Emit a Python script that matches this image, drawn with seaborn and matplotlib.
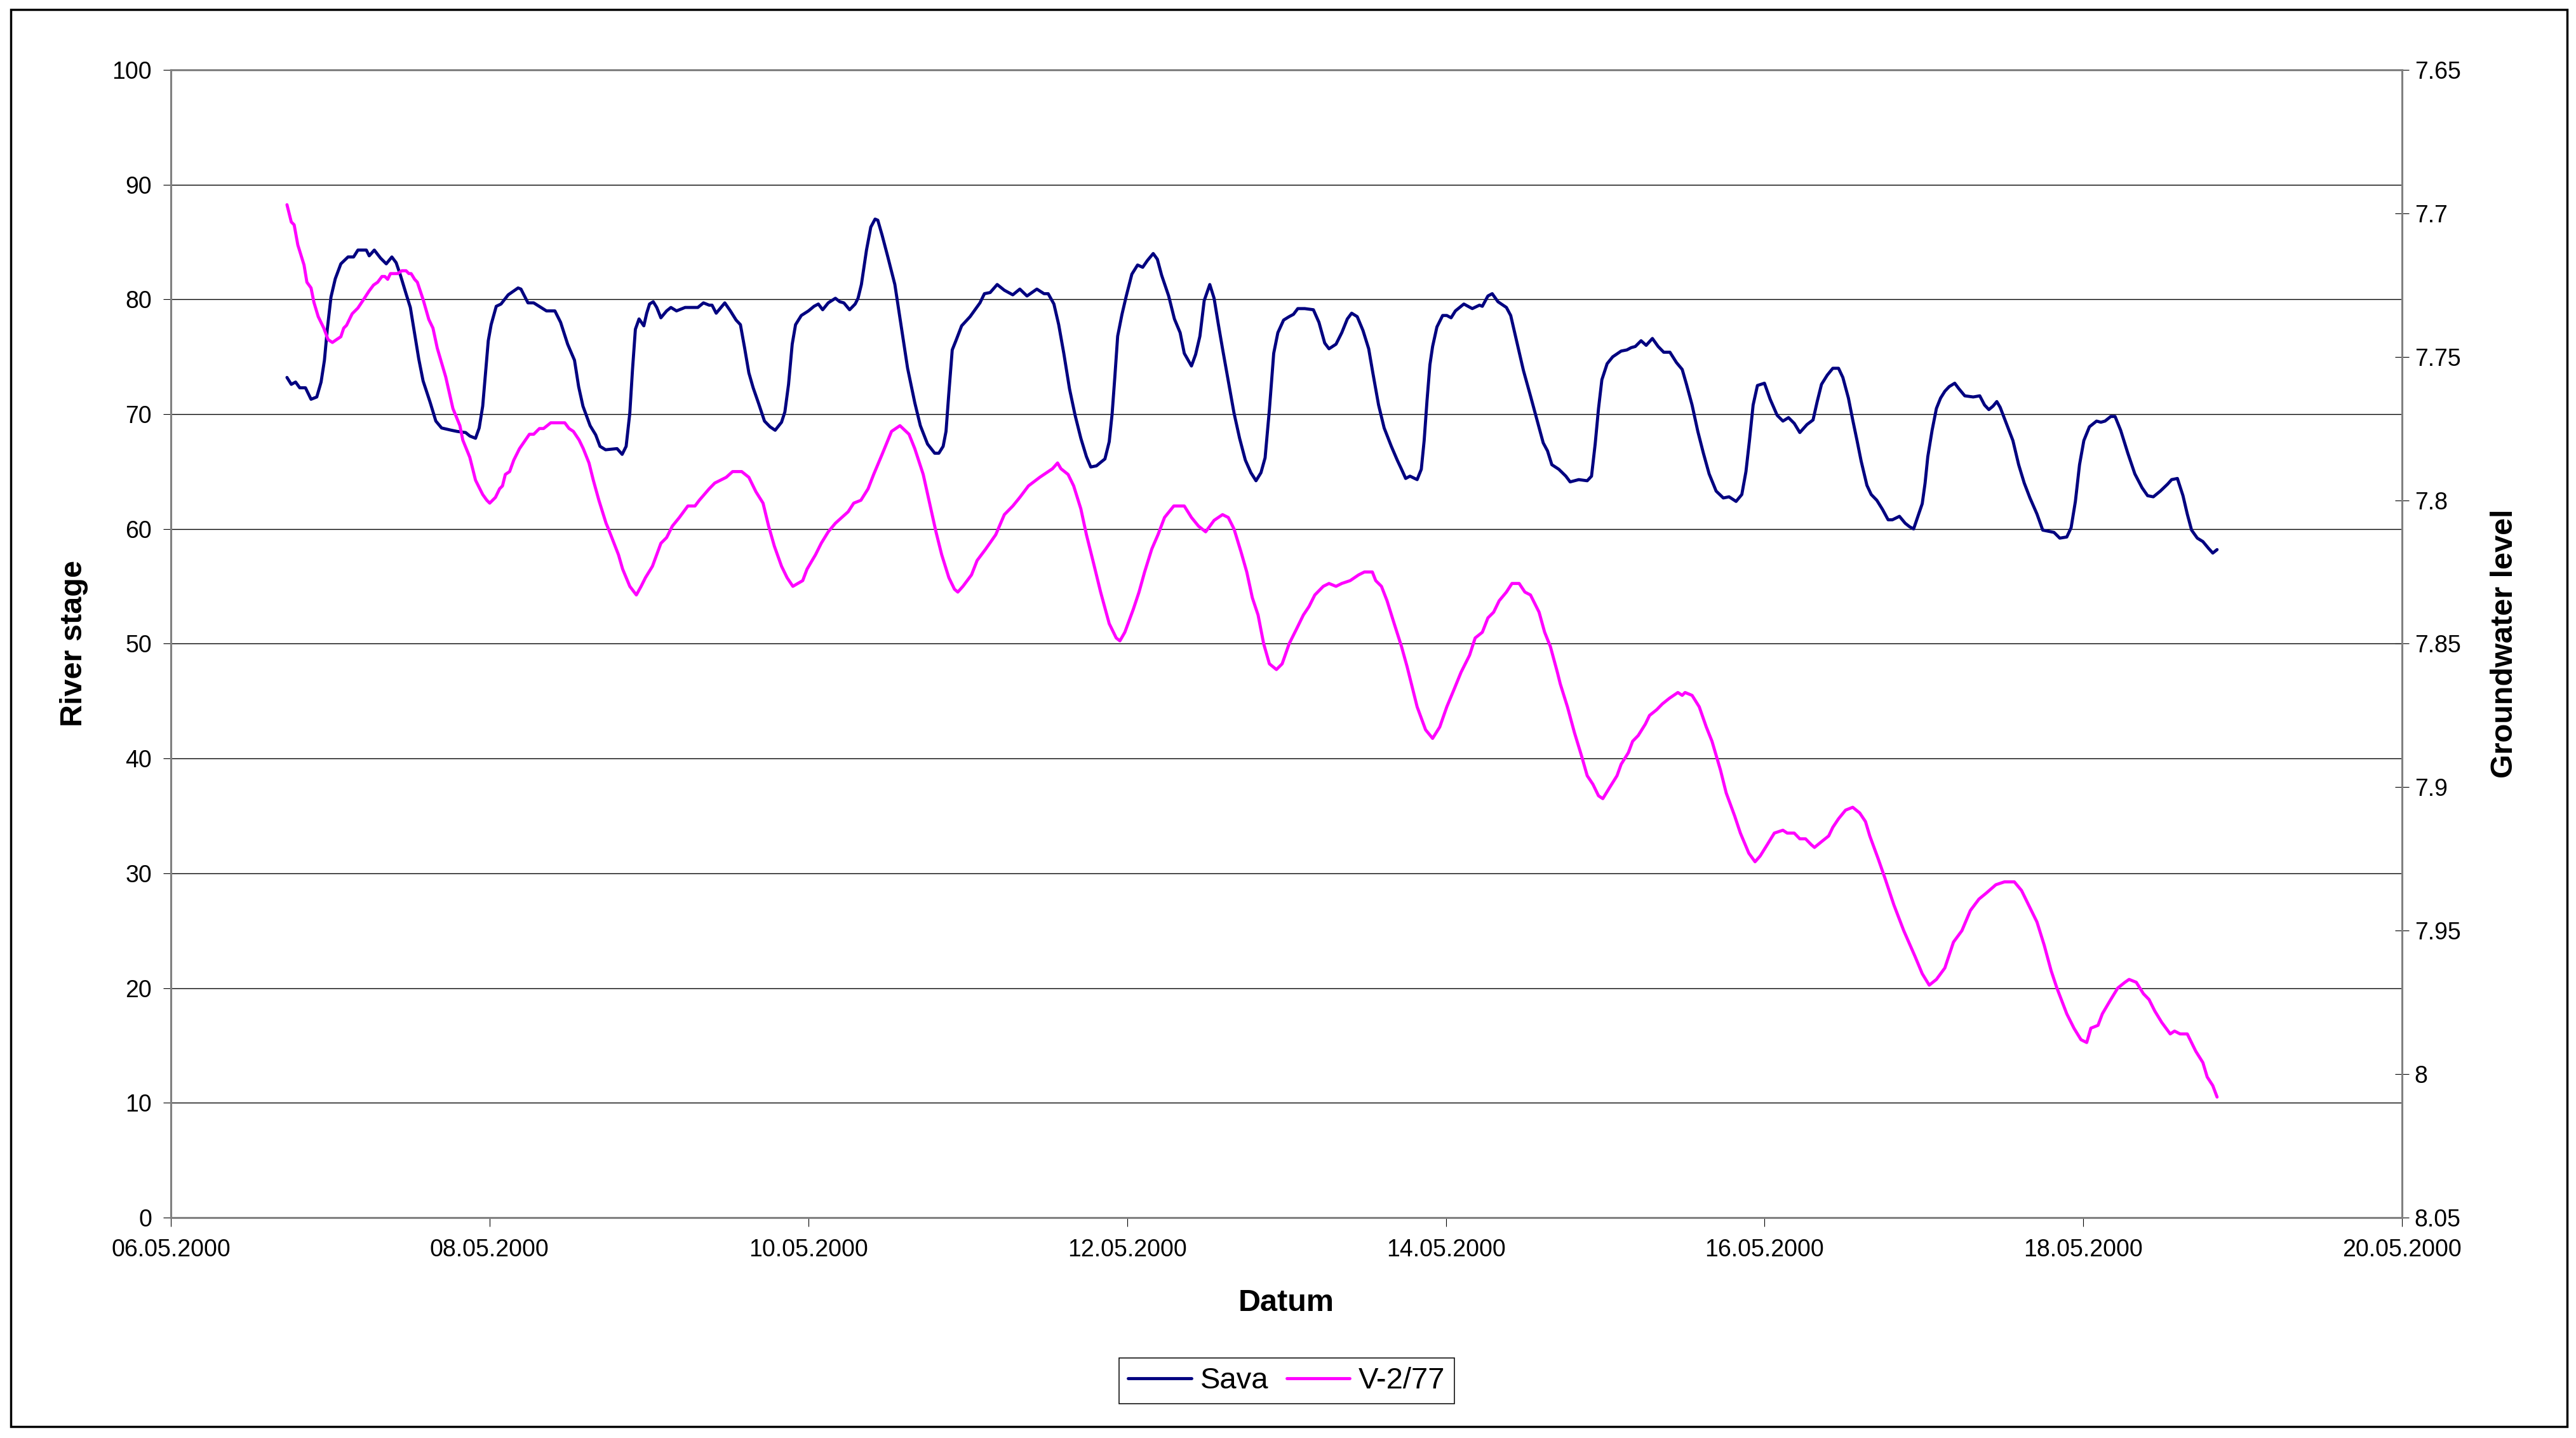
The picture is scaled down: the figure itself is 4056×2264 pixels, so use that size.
import numpy as np
import pandas as pd
import seaborn as sns
import matplotlib.pyplot as plt
from matplotlib.patches import Rectangle
import matplotlib.dates as mdates

# time axis: days after 06.05.2000 00:00
start = pd.Timestamp('2000-05-06')

# Sava river stage (left axis)
sava_days = [
    0.729, 0.756, 0.783, 0.809, 0.845, 0.880, 0.916, 0.943, 0.964, 0.982,
    1.005, 1.032, 1.067, 1.112, 1.147, 1.174, 1.227, 1.245, 1.277, 1.316,
    1.352, 1.387, 1.414, 1.441, 1.476, 1.503, 1.530, 1.556, 1.583, 1.628,
    1.663, 1.699, 1.761, 1.796, 1.850, 1.876, 1.912, 1.935, 1.957, 1.975,
    1.992, 2.010, 2.042, 2.072, 2.117, 2.179, 2.197, 2.241, 2.277, 2.357,
    2.410, 2.446, 2.490, 2.533, 2.559, 2.586, 2.631, 2.666, 2.693, 2.728,
    2.800, 2.832, 2.857, 2.880, 2.897, 2.915, 2.938, 2.968, 2.986, 3.004,
    3.027, 3.049, 3.075, 3.111, 3.138, 3.173, 3.227, 3.307, 3.342, 3.378,
    3.396, 3.422, 3.476, 3.511, 3.547, 3.574, 3.600, 3.627, 3.654, 3.689,
    3.725, 3.760, 3.792, 3.832, 3.853, 3.876, 3.899, 3.920, 3.956, 4.001,
    4.036, 4.063, 4.090, 4.125, 4.170, 4.197, 4.223, 4.259, 4.294, 4.312,
    4.333, 4.365, 4.392, 4.419, 4.436, 4.463, 4.499, 4.543, 4.579, 4.623,
    4.668, 4.703, 4.748, 4.793, 4.819, 4.846, 4.864, 4.881, 4.903, 4.926,
    4.962, 5.015, 5.077, 5.105, 5.141, 5.185, 5.230, 5.283, 5.327, 5.372,
    5.434, 5.479, 5.505, 5.541, 5.571, 5.603, 5.639, 5.674, 5.710, 5.745,
    5.772, 5.808, 5.834, 5.861, 5.888, 5.906, 5.923, 5.941, 5.968, 5.995,
    6.030, 6.066, 6.098, 6.128, 6.164, 6.190, 6.217, 6.261, 6.297, 6.333,
    6.359, 6.404, 6.430, 6.457, 6.484, 6.519, 6.546, 6.573, 6.599, 6.635,
    6.671, 6.706, 6.742, 6.777, 6.809, 6.840, 6.866, 6.893, 6.920, 6.946,
    6.982, 7.017, 7.044, 7.071, 7.115, 7.169, 7.204, 7.240, 7.267, 7.311,
    7.347, 7.382, 7.409, 7.444, 7.480, 7.516, 7.542, 7.578, 7.613, 7.658,
    7.695, 7.722, 7.748, 7.775, 7.820, 7.846, 7.864, 7.882, 7.900, 7.917,
    7.944, 7.980, 8.006, 8.033, 8.060, 8.113, 8.166, 8.211, 8.229, 8.264,
    8.291, 8.327, 8.380, 8.407, 8.442, 8.487, 8.531, 8.576, 8.611, 8.638,
    8.665, 8.709, 8.753, 8.780, 8.834, 8.887, 8.914, 8.937, 8.958, 8.979,
    9.012, 9.047, 9.100, 9.136, 9.163, 9.189, 9.225, 9.257, 9.296, 9.332,
    9.367, 9.406, 9.447, 9.483, 9.510, 9.545, 9.581, 9.616, 9.652, 9.696,
    9.741, 9.777, 9.821, 9.857, 9.883, 9.905, 9.928, 9.955, 9.999, 10.035,
    10.079, 10.115, 10.150, 10.186, 10.221, 10.266, 10.304, 10.330, 10.357, 10.393,
    10.428, 10.464, 10.491, 10.526, 10.553, 10.580, 10.606, 10.642, 10.669, 10.704,
    10.740, 10.775, 10.802, 10.846, 10.882, 10.909, 10.935, 10.962, 10.989, 11.007,
    11.024, 11.051, 11.078, 11.104, 11.131, 11.158, 11.193, 11.220, 11.256, 11.309,
    11.350, 11.380, 11.407, 11.433, 11.457, 11.478, 11.514, 11.558, 11.594, 11.629,
    11.665, 11.709, 11.745, 11.780, 11.816, 11.852, 11.896, 11.923, 11.950, 11.976,
    12.003, 12.038, 12.083, 12.110, 12.136, 12.172, 12.199, 12.234, 12.279, 12.323,
    12.368, 12.403, 12.439, 12.483, 12.528, 12.554, 12.590, 12.625, 12.652, 12.679,
    12.715, 12.750, 12.786, 12.812, 12.839,
]
sava_stage = [
    73.2, 72.6, 72.8, 72.3, 72.3, 71.3, 71.5, 72.8, 74.7, 77.4,
    80.2, 81.8, 83.1, 83.7, 83.7, 84.3, 84.3, 83.8, 84.3, 83.6,
    83.1, 83.7, 83.2, 82.1, 80.5, 79.3, 77.0, 74.8, 72.9, 71.0,
    69.4, 68.8, 68.6, 68.5, 68.4, 68.1, 67.9, 68.8, 70.7, 73.6,
    76.4, 77.8, 79.4, 79.6, 80.4, 81.0, 80.9, 79.7, 79.7, 79.0,
    79.0, 78.0, 76.1, 74.7, 72.4, 70.7, 69.0, 68.2, 67.2, 66.9,
    67.0, 66.5, 67.2, 70.1, 73.9, 77.4, 78.3, 77.7, 78.8, 79.6,
    79.8, 79.3, 78.4, 79.0, 79.3, 79.0, 79.3, 79.3, 79.7, 79.5,
    79.5, 78.8, 79.7, 79.0, 78.2, 77.8, 75.8, 73.6, 72.3, 70.9,
    69.4, 68.9, 68.6, 69.3, 70.2, 72.6, 76.1, 77.8, 78.6, 79.0,
    79.4, 79.6, 79.1, 79.7, 80.1, 79.8, 79.7, 79.1, 79.6, 80.1,
    81.3, 84.3, 86.3, 87.0, 86.9, 85.6, 83.7, 81.3, 78.0, 74.0,
    71.0, 69.0, 67.4, 66.6, 66.6, 67.2, 68.5, 71.7, 75.6, 76.4,
    77.7, 78.5, 79.7, 80.5, 80.6, 81.3, 80.8, 80.4, 80.9, 80.3,
    80.9, 80.5, 80.5, 79.6, 77.8, 75.3, 72.2, 69.9, 67.9, 66.3,
    65.4, 65.5, 65.8, 66.1, 67.6, 70.0, 73.2, 76.8, 78.7, 80.3,
    82.2, 83.0, 82.8, 83.4, 84.0, 83.5, 82.1, 80.3, 78.3, 77.1,
    75.3, 74.2, 75.2, 76.8, 79.9, 81.3, 80.1, 77.8, 75.7, 72.9,
    70.1, 67.9, 66.0, 64.9, 64.2, 64.9, 66.2, 70.4, 75.3, 77.1,
    78.2, 78.5, 78.7, 79.2, 79.2, 79.1, 78.0, 76.2, 75.7, 76.1,
    77.1, 78.3, 78.8, 78.5, 77.3, 75.7, 73.6, 70.8, 68.8, 67.2,
    66.0, 65.2, 64.4, 64.6, 64.3, 65.2, 67.7, 71.2, 74.3, 75.9,
    77.6, 78.6, 78.6, 78.4, 79.0, 79.6, 79.2, 79.5, 79.4, 80.3,
    80.5, 79.8, 79.3, 78.6, 76.5, 73.8, 71.6, 69.3, 67.5, 66.8,
    65.6, 65.2, 64.6, 64.1, 64.3, 64.2, 64.6, 67.4, 70.5, 73.0,
    74.4, 75.0, 75.5, 75.6, 75.8, 75.9, 76.4, 76.0, 76.6, 75.9,
    75.4, 75.4, 74.5, 73.9, 72.6, 70.8, 68.5, 66.6, 64.8, 63.3,
    62.7, 62.8, 62.4, 63.0, 65.0, 67.7, 70.8, 72.5, 72.7, 71.3,
    69.9, 69.4, 69.7, 69.2, 68.4, 69.1, 69.5, 71.1, 72.6, 73.4,
    74.0, 74.0, 73.2, 71.4, 69.5, 67.7, 65.9, 63.8, 63.0, 62.5,
    61.7, 60.8, 60.8, 61.1, 60.5, 60.2, 60.0, 61.1, 62.2, 64.0,
    66.3, 68.6, 70.5, 71.4, 72.0, 72.4, 72.7, 72.2, 71.6, 71.5,
    71.6, 70.8, 70.4, 70.7, 71.1, 70.6, 69.3, 67.7, 65.6, 64.0,
    62.7, 61.3, 59.9, 59.8, 59.7, 59.2, 59.3, 60.1, 62.4, 65.6,
    67.7, 68.9, 69.4, 69.3, 69.4, 69.8, 69.8, 68.6, 66.6, 64.8,
    63.6, 62.9, 62.8, 63.3, 63.9, 64.3, 64.4, 62.9, 61.3, 59.9,
    59.2, 58.9, 58.3, 57.9, 58.2,
]

# well V-2/77 groundwater level (right axis, inverted)
gw_days = [
    0.729, 0.756, 0.774, 0.797, 0.836, 0.854, 0.880, 0.898, 0.925, 0.960,
    0.987, 1.014, 1.040, 1.067, 1.085, 1.103, 1.138, 1.174, 1.210, 1.245,
    1.272, 1.298, 1.325, 1.343, 1.361, 1.378, 1.423, 1.450, 1.476, 1.494,
    1.508, 1.530, 1.547, 1.583, 1.619, 1.645, 1.672, 1.725, 1.770, 1.814,
    1.832, 1.876, 1.912, 1.957, 1.983, 2.001, 2.037, 2.063, 2.081, 2.099,
    2.126, 2.152, 2.188, 2.250, 2.277, 2.313, 2.339, 2.384, 2.472, 2.499,
    2.526, 2.562, 2.588, 2.624, 2.651, 2.686, 2.731, 2.746, 2.809, 2.835,
    2.880, 2.921, 2.951, 2.978, 3.022, 3.075, 3.111, 3.147, 3.191, 3.244,
    3.289, 3.316, 3.378, 3.413, 3.449, 3.485, 3.525, 3.582, 3.627, 3.671,
    3.716, 3.751, 3.787, 3.832, 3.867, 3.903, 3.965, 3.992, 4.045, 4.081,
    4.125, 4.170, 4.250, 4.285, 4.330, 4.375, 4.410, 4.463, 4.522, 4.575,
    4.632, 4.668, 4.721, 4.757, 4.801, 4.837, 4.882, 4.917, 4.938, 4.970,
    5.024, 5.059, 5.113, 5.176, 5.230, 5.283, 5.327, 5.381, 5.452, 5.532,
    5.564, 5.585, 5.630, 5.665, 5.710, 5.745, 5.790, 5.834, 5.888, 5.932,
    5.955, 5.986, 6.039, 6.075, 6.110, 6.155, 6.194, 6.235, 6.293, 6.324,
    6.359, 6.404, 6.448, 6.493, 6.546, 6.599, 6.635, 6.671, 6.715, 6.751,
    6.786, 6.822, 6.857, 6.893, 6.937, 6.973, 7.017, 7.062, 7.106, 7.142,
    7.178, 7.231, 7.267, 7.311, 7.347, 7.400, 7.453, 7.489, 7.539, 7.560,
    7.596, 7.631, 7.676, 7.722, 7.757, 7.784, 7.820, 7.873, 7.917, 7.962,
    8.006, 8.051, 8.095, 8.149, 8.184, 8.229, 8.264, 8.300, 8.335, 8.380,
    8.415, 8.460, 8.496, 8.531, 8.585, 8.620, 8.656, 8.700, 8.718, 8.763,
    8.807, 8.851, 8.887, 8.923, 8.958, 8.985, 9.029, 9.074, 9.100, 9.145,
    9.172, 9.207, 9.252, 9.278, 9.323, 9.358, 9.403, 9.456, 9.483, 9.501,
    9.545, 9.590, 9.634, 9.670, 9.723, 9.759, 9.812, 9.848, 9.901, 9.940,
    9.972, 10.017, 10.061, 10.115, 10.142, 10.186, 10.221, 10.257, 10.292, 10.313,
    10.357, 10.402, 10.428, 10.464, 10.508, 10.553, 10.597, 10.633, 10.660, 10.713,
    10.757, 10.811, 10.873, 10.944, 10.989, 11.033, 11.078, 11.131, 11.185, 11.238,
    11.291, 11.345, 11.389, 11.451, 11.505, 11.567, 11.612, 11.656, 11.709, 11.754,
    11.798, 11.834, 11.896, 11.941, 11.985, 12.021, 12.047, 12.092, 12.119, 12.172,
    12.216, 12.261, 12.287, 12.332, 12.377, 12.412, 12.448, 12.492, 12.545, 12.572,
    12.607, 12.652, 12.705, 12.750, 12.777, 12.812, 12.839,
]
gw_level = [
    7.697, 7.703, 7.704, 7.711, 7.718, 7.724, 7.726, 7.731, 7.736, 7.740,
    7.744, 7.745, 7.744, 7.743, 7.740, 7.739, 7.735, 7.733, 7.730, 7.727,
    7.725, 7.724, 7.722, 7.722, 7.723, 7.721, 7.721, 7.720, 7.720, 7.721,
    7.721, 7.723, 7.724, 7.730, 7.737, 7.740, 7.747, 7.757, 7.768, 7.774,
    7.779, 7.785, 7.793, 7.798, 7.800, 7.801, 7.799, 7.796, 7.795, 7.791,
    7.790, 7.786, 7.782, 7.777, 7.777, 7.775, 7.775, 7.773, 7.773, 7.775,
    7.776, 7.779, 7.782, 7.787, 7.793, 7.800, 7.808, 7.810, 7.819, 7.824,
    7.830, 7.833, 7.830, 7.827, 7.823, 7.815, 7.813, 7.809, 7.806, 7.802,
    7.802, 7.800, 7.796, 7.794, 7.793, 7.792, 7.790, 7.790, 7.792, 7.797,
    7.801, 7.809, 7.816, 7.823, 7.827, 7.830, 7.828, 7.824, 7.819, 7.815,
    7.811, 7.808, 7.804, 7.801, 7.800, 7.796, 7.791, 7.784, 7.776, 7.774,
    7.777, 7.782, 7.791, 7.800, 7.811, 7.819, 7.827, 7.831, 7.832, 7.830,
    7.826, 7.821, 7.817, 7.812, 7.805, 7.802, 7.799, 7.795, 7.792, 7.789,
    7.787, 7.789, 7.791, 7.795, 7.803, 7.812, 7.822, 7.832, 7.843, 7.848,
    7.849, 7.846, 7.838, 7.832, 7.825, 7.817, 7.812, 7.806, 7.802, 7.802,
    7.802, 7.806, 7.809, 7.811, 7.807, 7.805, 7.806, 7.810, 7.818, 7.825,
    7.834, 7.840, 7.850, 7.857, 7.859, 7.857, 7.850, 7.845, 7.840, 7.837,
    7.833, 7.830, 7.829, 7.830, 7.829, 7.828, 7.826, 7.825, 7.825, 7.828,
    7.830, 7.835, 7.843, 7.851, 7.858, 7.864, 7.872, 7.880, 7.883, 7.879,
    7.872, 7.866, 7.860, 7.854, 7.848, 7.846, 7.841, 7.839, 7.835, 7.832,
    7.829, 7.829, 7.832, 7.833, 7.839, 7.846, 7.851, 7.860, 7.864, 7.872,
    7.881, 7.889, 7.896, 7.899, 7.903, 7.904, 7.900, 7.896, 7.892, 7.888,
    7.884, 7.882, 7.878, 7.875, 7.873, 7.871, 7.869, 7.867, 7.868, 7.867,
    7.868, 7.872, 7.879, 7.884, 7.894, 7.902, 7.910, 7.916, 7.923, 7.926,
    7.924, 7.920, 7.916, 7.915, 7.916, 7.916, 7.918, 7.918, 7.920, 7.921,
    7.919, 7.917, 7.914, 7.911, 7.908, 7.907, 7.909, 7.912, 7.917, 7.925,
    7.932, 7.941, 7.950, 7.959, 7.965, 7.969, 7.967, 7.963, 7.954, 7.950,
    7.943, 7.939, 7.937, 7.934, 7.933, 7.933, 7.936, 7.941, 7.947, 7.955,
    7.964, 7.970, 7.979, 7.984, 7.988, 7.989, 7.984, 7.983, 7.979, 7.974,
    7.970, 7.968, 7.967, 7.968, 7.972, 7.974, 7.978, 7.982, 7.986, 7.985,
    7.986, 7.986, 7.992, 7.996, 8.001, 8.004, 8.008,
]

stage_ticks = list(range(0, 101, 10))
gw_ticks = [7.65, 7.70, 7.75, 7.80, 7.85, 7.90, 7.95, 8.00, 8.05]
date_ticks = pd.date_range('2000-05-06', '2000-05-20', freq='2D')

sava = pd.DataFrame({'Datum': start + pd.to_timedelta(sava_days, unit='D'), 'Sava': sava_stage})
well = pd.DataFrame({'Datum': start + pd.to_timedelta(gw_days, unit='D'), 'V-2/77': gw_level})

sns.set_style('white')
plt.rcParams['font.family'] = ['Liberation Sans', 'DejaVu Sans']
plt.rcParams['text.color'] = 'black'
plt.rcParams['axes.labelcolor'] = 'black'

fig = plt.figure(figsize=(40.56, 22.64), dpi=100)
ax = fig.add_axes([0.0663, 0.1533, 0.8662, 0.7981])
ax2 = ax.twinx()

sns.lineplot(data=sava, x='Datum', y='Sava', ax=ax, color='#000080', linewidth=3.5,
             estimator=None, sort=False, legend=False)
sns.lineplot(data=well, x='Datum', y='V-2/77', ax=ax2, color='#FF00FF', linewidth=3.5,
             estimator=None, sort=False, legend=False)

ax.set_xlim(pd.Timestamp('2000-05-06'), pd.Timestamp('2000-05-20'))
ax.set_xticks(date_ticks)
ax.xaxis.set_major_formatter(mdates.DateFormatter('%d.%m.%Y'))
ax.set_ylim(0, 100)
ax.set_yticks(stage_ticks)
ax2.set_ylim(8.05, 7.65)
ax2.set_yticks(gw_ticks)
ax2.set_yticklabels([f'{v:g}' for v in gw_ticks])

ax.grid(False)
ax2.grid(False)
ax.yaxis.grid(True, color='black', linewidth=1.0)

for a in (ax, ax2):
    for s in a.spines.values():
        s.set_color('#808080')
        s.set_linewidth(2.2)

ax.tick_params(axis='y', left=True, direction='out', length=8.6, width=0.8,
               color='black', labelsize=27, labelcolor='black', pad=13)
ax.tick_params(axis='x', bottom=True, direction='out', length=10, width=0.8,
               color='black', labelsize=27, labelcolor='black', pad=14)
ax2.tick_params(axis='y', right=True, direction='inout', length=16, width=0.8,
                color='black', labelsize=27, labelcolor='black', pad=6)

ax.set_xlabel('Datum', fontsize=35, fontweight='bold')
ax.xaxis.set_label_coords(0.5, -0.0747)
ax.xaxis.label.set_va('center')
ax.set_ylabel('River stage', fontsize=35, fontweight='bold')
ax.yaxis.set_label_coords(-0.0433, 0.5)
ax.yaxis.label.set_va('center')
ax2.set_ylabel('Groundwater level', fontsize=35, fontweight='bold')
ax2.yaxis.set_label_coords(1.0458, 0.5)
ax2.yaxis.label.set_va('center')

leg = fig.legend(handles=[ax.lines[0], ax2.lines[0]], labels=['Sava', 'V-2/77'],
                 loc='center', bbox_to_anchor=(0.4995, 0.0397), ncol=2,
                 fontsize=34, frameon=True, fancybox=False, framealpha=1,
                 edgecolor='black', handlelength=2.1, handletextpad=0.3,
                 columnspacing=0.6, borderpad=0.3)
leg.get_frame().set_linewidth(1.1)

fig.add_artist(Rectangle((0.0042, 0.008), 0.9924, 0.9854, transform=fig.transFigure,
                         fill=False, edgecolor='black', linewidth=2.5))

fig.savefig('out.png', dpi=100)
